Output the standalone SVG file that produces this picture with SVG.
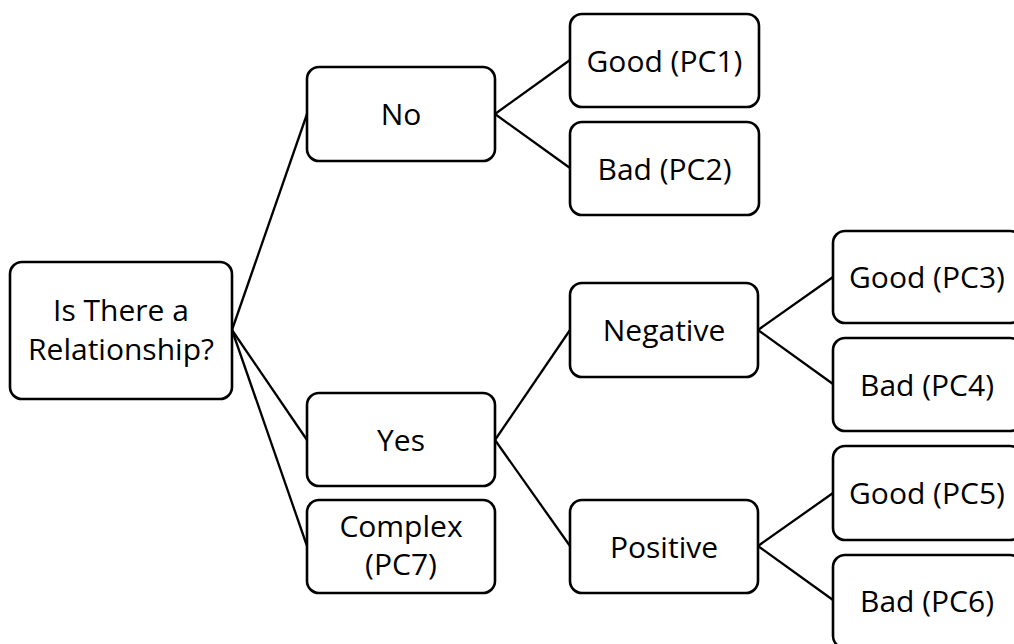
<svg xmlns="http://www.w3.org/2000/svg" width="1014" height="644" viewBox="0 0 1014 644">
<style>
.box{fill:#fff;stroke:#000;stroke-width:2.6}
.lbl{font-family:"Open Sans","Liberation Sans",sans-serif;font-size:30px;fill:#000;text-anchor:middle}
.con line{stroke:#000;stroke-width:2.3}
</style>
<rect width="1014" height="644" fill="#fff"/>
<g id="connectors" class="con">
<line x1="232" y1="330" x2="307" y2="114"/>
<line x1="232" y1="330" x2="307" y2="440"/>
<line x1="232" y1="330" x2="307" y2="546"/>
<line x1="495" y1="114" x2="570" y2="60"/>
<line x1="495" y1="114" x2="570" y2="168"/>
<line x1="495" y1="440" x2="570" y2="330"/>
<line x1="495" y1="440" x2="570" y2="546"/>
<line x1="758" y1="330" x2="833" y2="277"/>
<line x1="758" y1="330" x2="833" y2="384"/>
<line x1="758" y1="546" x2="833" y2="493"/>
<line x1="758" y1="546" x2="833" y2="600"/>
</g>
<g id="root"><rect class="box" x="10" y="262" width="222" height="137" rx="12"/>
<text class="lbl" x="121" y="321">Is There a</text><text class="lbl" x="121" y="360">Relationship?</text></g>
<g id="no"><rect class="box" x="307" y="67" width="188" height="94" rx="12"/>
<text class="lbl" x="401" y="125">No</text></g>
<g id="yes"><rect class="box" x="307" y="393" width="188" height="93" rx="12"/>
<text class="lbl" x="401" y="450.5">Yes</text></g>
<g id="complex"><rect class="box" x="307" y="500" width="188" height="93" rx="12"/>
<text class="lbl" x="401" y="537">Complex</text><text class="lbl" x="401" y="575">(PC7)</text></g>
<g id="pc1"><rect class="box" x="570" y="14" width="189" height="93" rx="12"/>
<text class="lbl" x="664.5" y="71.5">Good (PC1)</text></g>
<g id="pc2"><rect class="box" x="570" y="122" width="189" height="93" rx="12"/>
<text class="lbl" x="664.5" y="179.5">Bad (PC2)</text></g>
<g id="negative"><rect class="box" x="570" y="283" width="188" height="94" rx="12"/>
<text class="lbl" x="664" y="340.5">Negative</text></g>
<g id="positive"><rect class="box" x="570" y="500" width="188" height="93" rx="12"/>
<text class="lbl" x="664" y="557.5">Positive</text></g>
<g id="pc3"><rect class="box" x="833" y="231" width="189" height="92" rx="12"/>
<text class="lbl" x="927" y="288">Good (PC3)</text></g>
<g id="pc4"><rect class="box" x="833" y="338" width="189" height="93" rx="12"/>
<text class="lbl" x="927" y="395.5">Bad (PC4)</text></g>
<g id="pc5"><rect class="box" x="833" y="446" width="189" height="94" rx="12"/>
<text class="lbl" x="927" y="504">Good (PC5)</text></g>
<g id="pc6"><rect class="box" x="833" y="555" width="189" height="93" rx="12"/>
<text class="lbl" x="927" y="611.5">Bad (PC6)</text></g>
</svg>
